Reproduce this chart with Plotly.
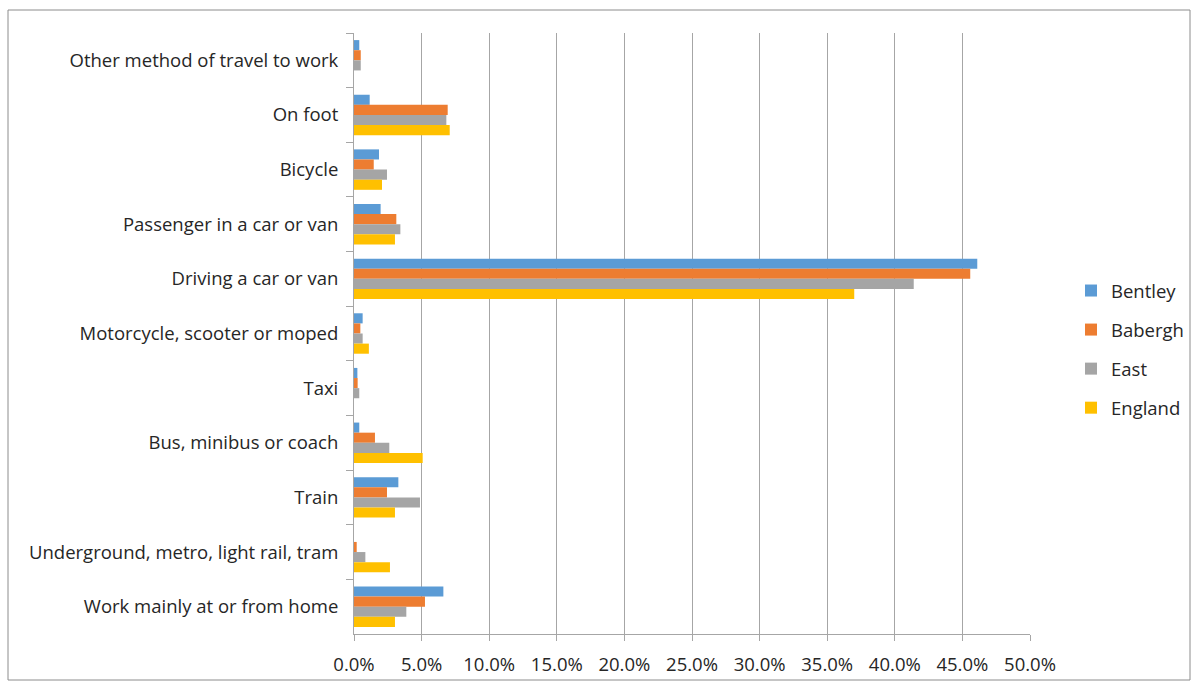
import plotly.graph_objects as go

categories = [
    "Other method of travel to work",
    "On foot",
    "Bicycle",
    "Passenger in a car or van",
    "Driving a car or van",
    "Motorcycle, scooter or moped",
    "Taxi",
    "Bus, minibus or coach",
    "Train",
    "Underground, metro, light rail, tram",
    "Work mainly at or from home",
]

bentley = [0.39, 1.16, 1.85, 1.97, 46.1, 0.64, 0.25, 0.39, 3.28, 0.0, 6.61]
babergh = [0.5, 6.93, 1.46, 3.13, 45.58, 0.47, 0.27, 1.55, 2.44, 0.2, 5.25]
east = [0.5, 6.83, 2.44, 3.43, 41.4, 0.64, 0.39, 2.61, 4.88, 0.84, 3.87]
england = [0.0, 7.08, 2.07, 3.03, 37.0, 1.1, 0.0, 5.08, 3.03, 2.66, 3.03]

series = [
    ("Bentley", bentley, "#5B9BD5"),
    ("Babergh", babergh, "#ED7D31"),
    ("East", east, "#A5A5A5"),
    ("England", england, "#FFC000"),
]

x_ticks = [0, 5, 10, 15, 20, 25, 30, 35, 40, 45, 50]

fig = go.Figure()
for name, vals, color in series:
    fig.add_trace(go.Bar(
        y=categories, x=vals, name=name, orientation="h",
        marker=dict(color=color, line=dict(width=0)),
        legendgroup=name,
    ))

font_family = "Open Sans, Liberation Sans, sans-serif"
fs = 18.5
text_color = "#262626"

L, R, T, B = 354, 168, 33, 48
pw, ph = 1198 - L - R, 682 - T - B

fig.update_layout(
    width=1198, height=682,
    margin=dict(l=L, r=R, t=T, b=B, autoexpand=False),
    paper_bgcolor="white", plot_bgcolor="white",
    barmode="group", bargap=0.26, bargroupgap=0,
    font=dict(family=font_family, size=fs, color=text_color),
    showlegend=True,
    legend=dict(
        x=(1071 - L) / pw, y=(634 - 349.5) / ph, xanchor="left", yanchor="middle",
        font=dict(size=fs, color=text_color),
        bgcolor="rgba(0,0,0,0)",
        tracegroupgap=12, itemwidth=30,
    ),
    xaxis=dict(
        range=[0, 50], tickvals=x_ticks,
        ticktext=[f"{v:.1f}%" for v in x_ticks],
        showgrid=True, gridcolor="#a6a6a6", gridwidth=1,
        zeroline=False, showline=True, linecolor="#a6a6a6", linewidth=1,
        ticks="outside", ticklen=6, tickcolor="#a6a6a6",
        ticklabelstandoff=8,
        tickfont=dict(size=fs, color=text_color),
    ),
    yaxis=dict(
        autorange="reversed", type="category",
        showline=True, linecolor="#a6a6a6", linewidth=1,
        ticks="outside", ticklen=7, tickcolor="#a6a6a6",
        tickson="boundaries", ticklabelstandoff=11,
        showgrid=False, zeroline=False,
        tickfont=dict(size=fs, color=text_color),
    ),
)

fig.add_shape(
    type="rect", xref="paper", yref="paper",
    x0=(8 - L) / pw, x1=(1190 - L) / pw,
    y0=-(680 - 634) / ph, y1=1 + (T - 10) / ph,
    line=dict(color="#8c8c8c", width=1), fillcolor="rgba(0,0,0,0)",
    layer="below",
)

fig.write_html("out.html")
